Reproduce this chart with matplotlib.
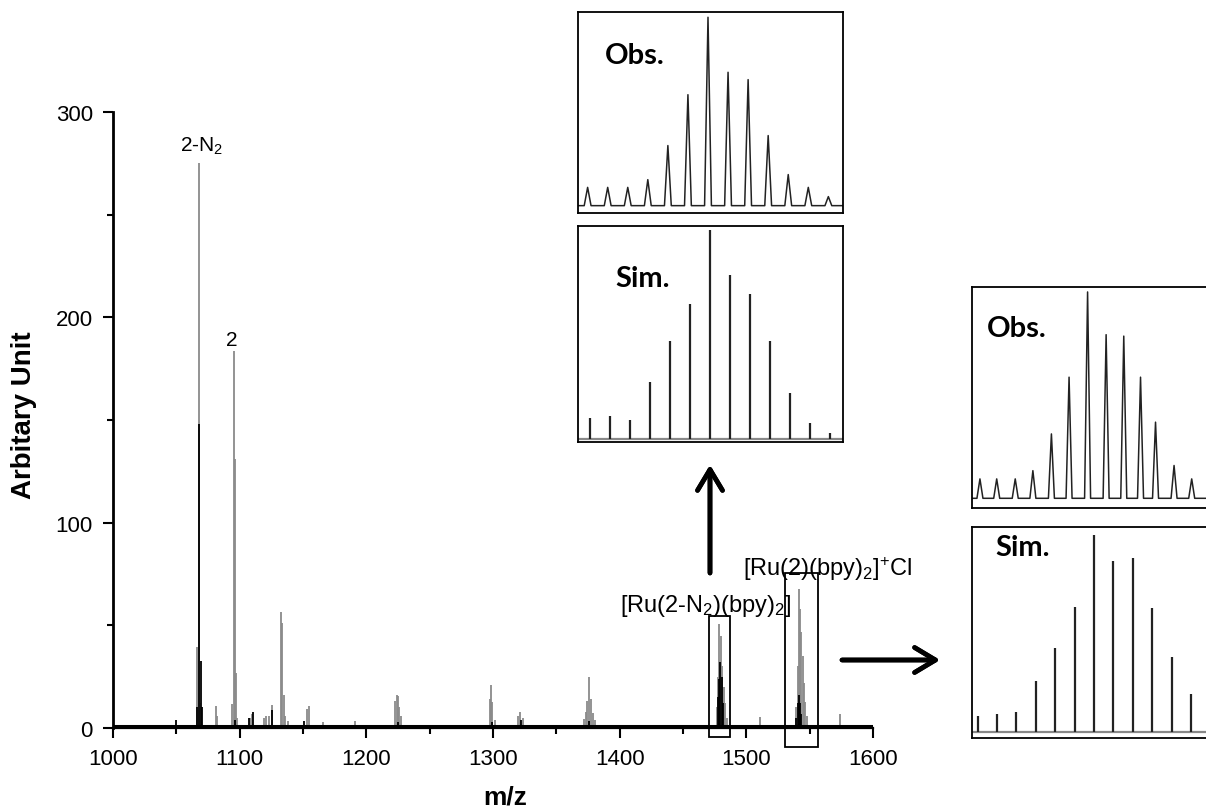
import matplotlib
matplotlib.use("Agg")
import matplotlib.pyplot as plt
from matplotlib.patches import Rectangle

plt.rcParams['font.family'] = ['Liberation Sans', 'DejaVu Sans']
plt.rcParams['mathtext.fontset'] = 'custom'
plt.rcParams['mathtext.rm'] = 'Liberation Sans'
plt.rcParams['mathtext.it'] = 'Liberation Sans:italic'
plt.rcParams['mathtext.bf'] = 'Liberation Sans:bold'

# ---- espectro completo (m/z, intensidad) ----
gris_mz = [1066.4, 1067.7, 1069.0, 1081.1, 1082.0, 1093.9, 1095.3, 1096.1, 1096.9, 1098.0,
           1108.0, 1110.0, 1119.0, 1121.0, 1123.0, 1125.7, 1132.8, 1133.8, 1134.8, 1136.0,
           1138.0, 1153.0, 1154.6, 1166.0, 1191.0, 1222.6, 1224.0, 1225.0, 1226.0, 1227.0,
           1297.6, 1298.4, 1299.5, 1301.6, 1320.0, 1321.5, 1323.4, 1371.7, 1373.5, 1374.3,
           1376.1, 1377.4, 1379.0, 1380.5, 1476.5, 1477.5, 1478.6, 1479.8, 1481.0, 1482.0,
           1483.0, 1484.5, 1510.7, 1539.5, 1540.5, 1541.5, 1542.5, 1543.5, 1544.5, 1545.5,
           1546.5, 1548.0, 1574.3]
gris_int = [39.4, 275.0, 12.0, 10.9, 6.0, 11.7, 183.5, 131.0, 27.0, 5.0,
            5.0, 7.0, 5.0, 6.0, 6.0, 11.3, 56.4, 51.0, 16.0, 6.0,
            3.5, 9.3, 10.9, 3.0, 3.5, 13.3, 16.0, 15.8, 10.2, 6.0,
            14.0, 21.0, 12.7, 4.0, 6.0, 8.0, 5.0, 4.4, 8.0, 13.3,
            24.7, 14.0, 7.4, 4.0, 10.0, 25.0, 50.5, 45.0, 30.4, 20.0,
            12.0, 5.0, 5.4, 10.0, 30.0, 67.8, 58.0, 46.6, 35.0, 22.0,
            12.5, 6.0, 6.8]

negro_mz = [1050.0, 1066.5, 1068.0, 1069.3, 1070.2, 1096.0, 1107.0, 1110.5, 1125.5, 1151.0,
            1225.0, 1299.0, 1322.0, 1376.0, 1477.5, 1478.5, 1479.5, 1480.5, 1481.5,
            1539.5, 1540.5, 1541.5, 1542.5, 1543.5]
negro_int = [4.0, 10.0, 148.0, 32.8, 10.0, 4.0, 5.0, 8.0, 9.0, 3.5,
             3.0, 3.0, 4.0, 3.5, 15.0, 24.0, 32.0, 25.0, 12.0,
             5.0, 12.0, 16.0, 12.0, 7.0]

nivel_base = 1.2  # ruido de fondo

# ---- patrones isotópicos (%) ----
ru_n2_obs_mz = [1473, 1474, 1475, 1476, 1477, 1478, 1479, 1480, 1481, 1482, 1483, 1484, 1485]
ru_n2_obs = [9.7, 9.7, 9.7, 13.8, 31.9, 58.9, 100, 70.8, 66.9, 37.2, 16.5, 9.7, 4.8]
ru_n2_sim_mz = [1473, 1474, 1475, 1476, 1477, 1478, 1479, 1480, 1481, 1482, 1483, 1484, 1485]
ru_n2_sim = [10.0, 11.0, 9.1, 27.1, 46.7, 64.3, 100, 78.6, 69.1, 46.7, 21.9, 7.7, 2.6]

ru_cl_obs_mz = [1535.0, 1535.95, 1537.0, 1538.0, 1539.05, 1540.05, 1541.1, 1542.15, 1543.15,
                1544.1, 1544.95, 1546.0, 1547.0]
ru_cl_obs = [9.4, 9.4, 9.4, 13.4, 31.2, 58.7, 100, 79.3, 78.6, 58.7, 36.9, 15.9, 9.4]
ru_cl_sim_mz = [1535, 1536, 1537, 1538, 1539, 1540, 1541, 1542, 1543, 1544, 1545, 1546]
ru_cl_sim = [8.2, 8.8, 10.2, 25.9, 42.7, 63.3, 100, 86.9, 88.3, 62.8, 38.1, 19.4]

W, H = 1206, 812
fig = plt.figure(figsize=(W / 100, H / 100), dpi=100)


def caja(x0, y0, x1, y1):
    # rectángulo en pixeles (origen arriba a la izquierda) -> fracción de figura
    return [x0 / W, 1 - y1 / H, (x1 - x0) / W, (y1 - y0) / H]


# ---- gráfico principal ----
ax = fig.add_axes(caja(113, 113, 873, 729))
ax.vlines(gris_mz, 0, gris_int, color='#8a8a8a', lw=1.3)
ax.vlines(negro_mz, 0, negro_int, color='black', lw=1.3)
ax.plot([1000, 1600], [nivel_base, nivel_base], color='black', lw=2.2)
ax.set_xlim(1000, 1600)
ax.set_ylim(0, 300)
ax.set_xticks([1000, 1100, 1200, 1300, 1400, 1500, 1600])
ax.set_xticks([1050, 1150, 1250, 1350, 1450, 1550], minor=True)
ax.set_yticks([0, 100, 200, 300])
ax.set_yticks([50, 150, 250], minor=True)
for s in ['top', 'right']:
    ax.spines[s].set_visible(False)
ax.spines['left'].set_linewidth(2)
ax.spines['bottom'].set_linewidth(1.6)
ax.tick_params(which='major', length=7.5, width=1.5, labelsize=16, pad=7)
ax.tick_params(which='minor', length=4.5, width=1.5)
ax.set_xlabel('m/z', fontsize=19, fontweight='bold')
ax.xaxis.set_label_coords(0.516, -0.092)
ax.set_ylabel('Arbitary Unit', fontsize=20, fontweight='bold')
ax.yaxis.set_label_coords(-0.1, 0.51)

ax.text(1070, 281, '2-N$_2$', fontsize=15, ha='center', va='baseline')
ax.text(1094, 186.5, '2', fontsize=15, ha='center', va='baseline')
ax.text(1400.6, 57.2, '[Ru(2-N$_2$)(bpy)$_2$]', fontsize=17, ha='left', va='baseline')
ax.text(1497.6, 74.6, '[Ru(2)(bpy)$_2$]$^{+}$Cl', fontsize=17, ha='left', va='baseline')

ax.add_patch(Rectangle((1470.9, -4.4), 16.5, 59.0, fill=False, ec='black', lw=1.3, clip_on=False))
ax.add_patch(Rectangle((1530.7, -9.3), 26.0, 84.9, fill=False, ec='black', lw=1.3, clip_on=False))

# ---- flechas ----
flecha = dict(arrowstyle='->,head_length=0.5,head_width=0.3', lw=3.4, color='black',
              mutation_scale=30, shrinkA=0, shrinkB=0)
fig.add_artist(plt.annotate('', xy=(710 / W, 1 - 466 / H), xytext=(710 / W, 1 - 574 / H),
                            xycoords='figure fraction', arrowprops=flecha))
fig.add_artist(plt.annotate('', xy=(940 / W, 1 - 661 / H), xytext=(842 / W, 1 - 661 / H),
                            xycoords='figure fraction', arrowprops=flecha))


def perfil(mz, inten, ancho=0.17):
    # traza observada: picos estrechos sobre la línea base
    xs, ys = [], []
    for c, h in zip(mz, inten):
        xs += [c - ancho, c, c + ancho]
        ys += [0, h, 0]
    return xs, ys


def recuadro(pos, xlim, ylim, etiqueta, ex, ey, derecha=True):
    a = fig.add_axes(pos)
    a.set_xlim(*xlim)
    a.set_ylim(*ylim)
    a.set_xticks([])
    a.set_yticks([])
    for s in a.spines.values():
        s.set_linewidth(1.3)
    a.spines['right'].set_visible(derecha)
    a.text(ex, ey, etiqueta, transform=a.transAxes, fontsize=21, fontweight='bold',
           family=['Lato', 'DejaVu Sans'], ha='left', va='baseline')
    return a


# [Ru(2-N2)(bpy)2]
a1 = recuadro(caja(578, 13, 843, 214), (1472.52, 1485.73), (-3.9, 102.8), 'Obs.', 0.102, 0.746)
xs, ys = perfil(ru_n2_obs_mz, ru_n2_obs)
a1.plot([1472.52] + xs + [1485.73], [0] + ys + [0], color='#222222', lw=1.1)

a2 = recuadro(caja(578, 227, 843, 443), (1472.4, 1485.65), (-1.6, 101.9), 'Sim.', 0.14, 0.72)
a2.axhline(0, color='#888888', lw=1.6)
a2.vlines(ru_n2_sim_mz, 0, ru_n2_sim, color='#222222', lw=1.6)

# [Ru(2)(bpy)2]+Cl
a3 = recuadro(caja(972, 288, 1206, 509), (1534.55, 1547.81), (-4.7, 102.4), 'Obs.', 0.063, 0.78,
              derecha=False)
xs, ys = perfil(ru_cl_obs_mz, ru_cl_obs)
a3.plot([1534.55] + xs + [1547.81], [0] + ys + [0], color='#222222', lw=1.1)

a4 = recuadro(caja(972, 528, 1206, 739), (1534.71, 1546.77), (-3.2, 104.3), 'Sim.', 0.098, 0.865,
              derecha=False)
a4.axhline(0, color='#888888', lw=1.6)
a4.vlines(ru_cl_sim_mz, 0, ru_cl_sim, color='#222222', lw=1.6)

fig.savefig('out.png', dpi=100)
